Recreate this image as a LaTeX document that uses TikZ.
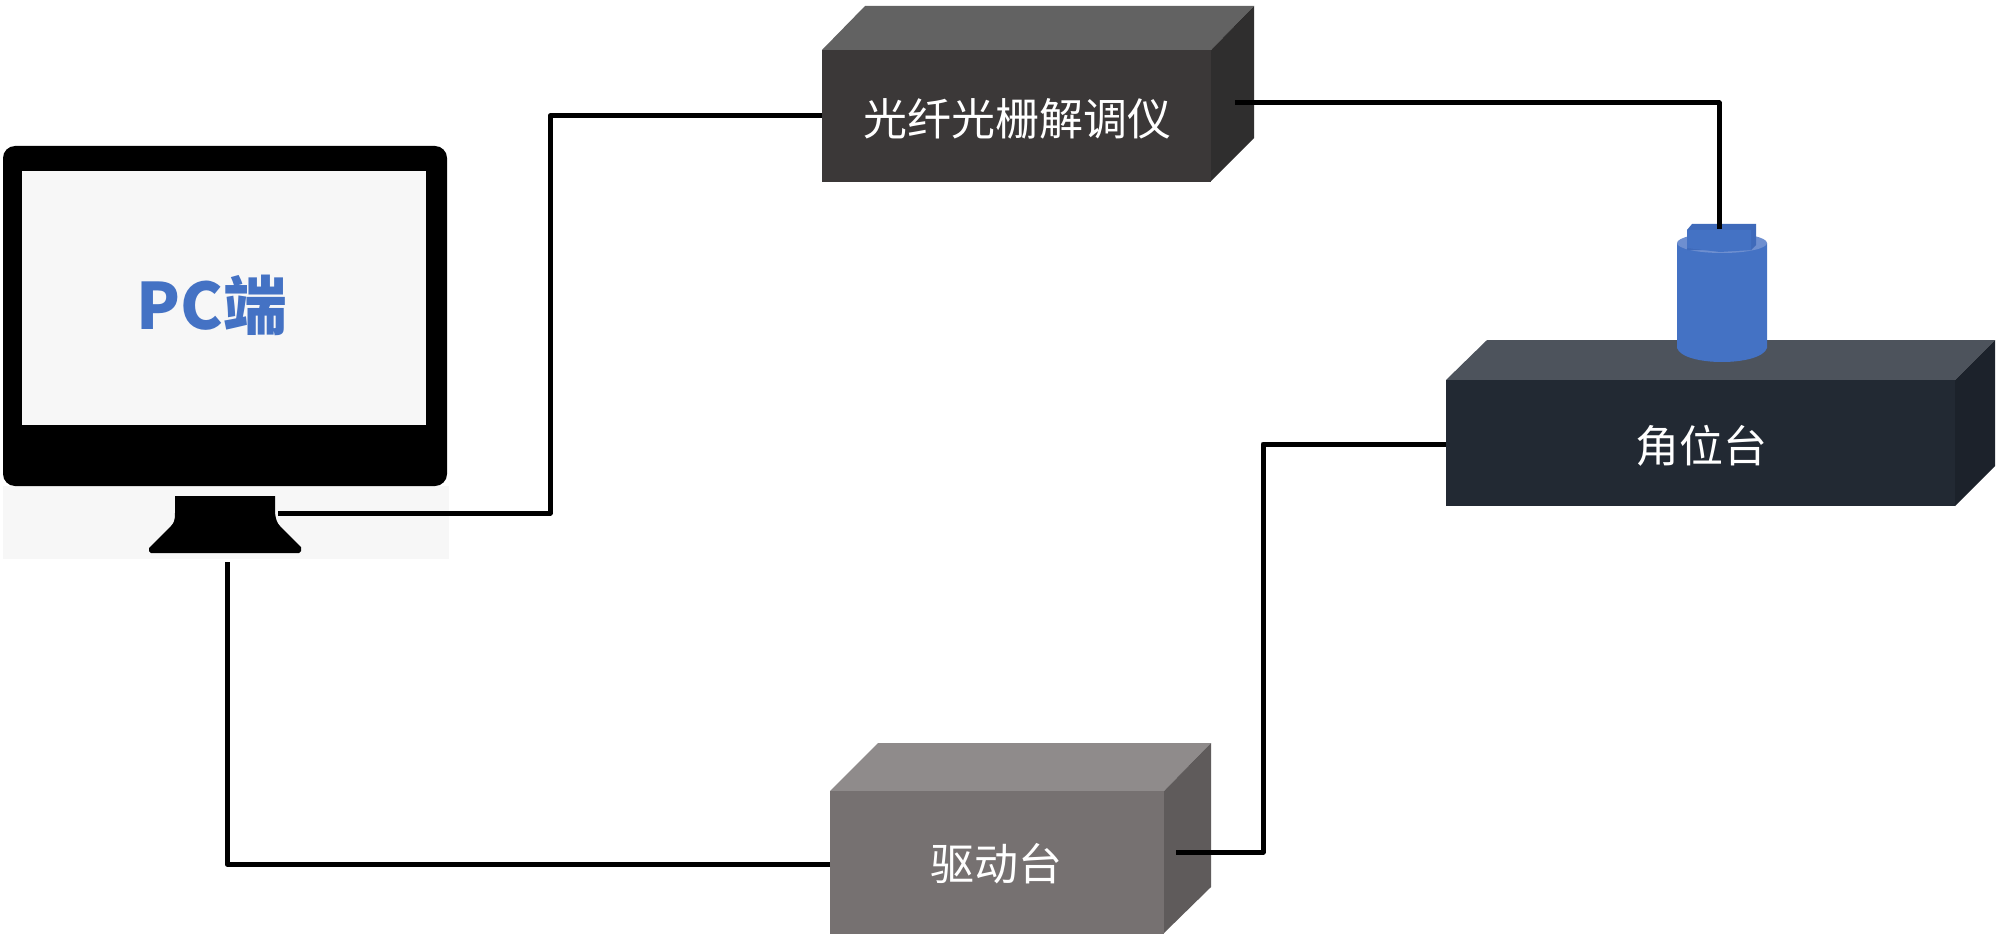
\documentclass[tikz,border=0pt]{standalone}
\usepackage{fontspec}
\newfontfamily\cjk{Noto Sans CJK SC}
\tikzset{
  x=0.5pt,y=-0.5pt,
  face/.style={fill=#1,draw=none,inner sep=0pt,outer sep=0pt},
  boxlabel/.style={text=white,inner sep=0pt,font=\cjk\fontsize{22}{24}\selectfont},
  wire/.style={draw=black,line width=2.5pt,line join=round},
}
\definecolor{dmF}{HTML}{3B3838}\definecolor{dmT}{HTML}{626262}\definecolor{dmS}{HTML}{2F2E2E}
\definecolor{agF}{HTML}{222933}\definecolor{agT}{HTML}{4D535C}\definecolor{agS}{HTML}{1C222B}
\definecolor{drF}{HTML}{767171}\definecolor{drT}{HTML}{8F8B8B}\definecolor{drS}{HTML}{5F5B5B}
\definecolor{blueM}{HTML}{4472C4}\definecolor{blueL}{HTML}{6E8FD0}\definecolor{blueD}{HTML}{3F6ABA}
\definecolor{paper}{HTML}{F7F7F7}
\begin{document}
\begin{tikzpicture}
\useasboundingbox[fill=white] (0,0) rectangle (2000,941);
% monitor
\fill[paper] (3,486) rectangle (449,559);
\node[face=black,rounded corners=6pt,minimum width=222pt,minimum height=170pt,anchor=north west] (monitor) at (3,146) {};
\node[face=paper,minimum width=202pt,minimum height=127pt,anchor=north west] (screen) at (22,171) {};
\node[text=blueM,inner sep=0pt,font=\cjk\bfseries\fontsize{32}{34}\selectfont] (pclabel) at (212,305) {PC端};
\fill[black] (175,496) -- (275,496) -- (275,513) .. controls (276,520) and (277,523) .. (280,526) -- (301,547) -- (301,551) -- (299,553) -- (151,553) -- (149,551) -- (149,548) -- (171,526) .. controls (174,523) and (175,520) .. (175,513) -- cycle;
\coordinate (standR) at (278,513);
\coordinate (standB) at (227,562);
% demodulator
\fill[dmT] (822,50) -- (865,6) -- (1254,6) -- (1211,50) -- cycle;
\fill[dmS] (1211,50) -- (1254,6) -- (1254,138) -- (1211,181) -- cycle;
\node[face=dmF,minimum width=194.5pt,minimum height=66pt,anchor=north west] (demod) at (822,50) {};
\node[boxlabel] (demodtext) at (1017,119) {光纤光栅解调仪};
\coordinate (demodR) at (1235,103);
% driver
\fill[drT] (830,791) -- (878,743) -- (1211,743) -- (1164,791) -- cycle;
\fill[drS] (1164,791) -- (1211,743) -- (1211,887) -- (1164,933) -- cycle;
\node[face=drF,minimum width=167pt,minimum height=71.5pt,anchor=north west] (driver) at (830,791) {};
\node[boxlabel] (drivertext) at (996,864) {驱动台};
\coordinate (driverR) at (1176,852);
\coordinate (driverL) at (830,864);
% stage
\fill[agT] (1446,380) -- (1487,340) -- (1995,340) -- (1955,380) -- cycle;
\fill[agS] (1955,380) -- (1995,340) -- (1995,466) -- (1955,506) -- cycle;
\node[face=agF,minimum width=254.5pt,minimum height=63pt,anchor=north west] (stage) at (1446,380) {};
\node[boxlabel] (stagetext) at (1701,446) {角位台};
% sensor
\fill[blueM] (1677,243) -- (1677,348) .. controls (1680,357) and (1700,362) .. (1722,362) .. controls (1744,362) and (1764,357) .. (1767,348) -- (1767,243) -- cycle;
\fill[blueL] (1722,243) ellipse[x radius=45,y radius=10];
\fill[blueD] (1692,224) -- (1756,224) -- (1756,245) -- (1751,250) -- (1687,250) -- (1687,230) -- cycle;
\fill[blueM] (1687,230) -- (1751,230) -- (1751,250) -- (1720,252) -- (1687,248) -- cycle;
\coordinate (sensorT) at (1719,229);
% connectors
\draw[wire] (standR) -- (550,513) |- (demod.west);
\draw[wire] (demodR) -| (sensorT);
\draw[wire] (stage.west |- 0,444) -- (1263,444) |- (driverR);
\draw[wire] (driverL) -| (standB);
\end{tikzpicture}
\end{document}
